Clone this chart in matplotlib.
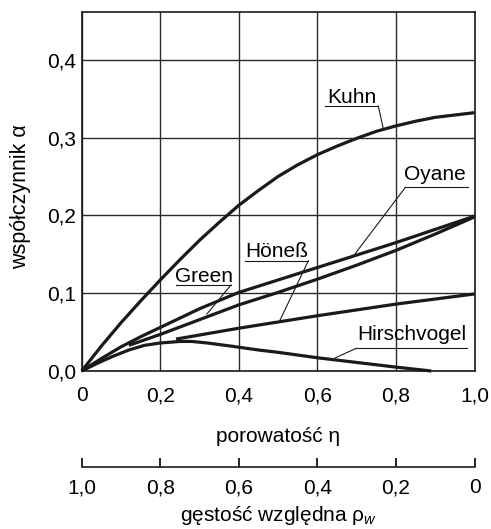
import matplotlib
matplotlib.use("Agg")
import matplotlib.pyplot as plt

plt.rcParams["font.family"] = ["Liberation Sans", "DejaVu Sans"]
plt.rcParams["mathtext.fontset"] = "custom"
plt.rcParams["mathtext.rm"] = "Liberation Sans"
plt.rcParams["mathtext.it"] = "Liberation Sans:italic"

# --- data: Poisson-type coefficient alpha vs porosity eta ---
kuhn_x = [0, 0.05, 0.1, 0.15, 0.2, 0.25, 0.3, 0.35, 0.4, 0.45, 0.5, 0.55,
          0.6, 0.65, 0.7, 0.75, 0.8, 0.85, 0.9, 0.95, 1.0]
kuhn_y = [0, 0.032, 0.062, 0.090, 0.117, 0.143, 0.168, 0.191, 0.213, 0.232,
          0.250, 0.265, 0.278, 0.289, 0.299, 0.308, 0.315, 0.321, 0.326,
          0.329, 0.332]

oyane_x = [0, 0.05, 0.1, 0.15, 0.2, 0.3, 0.4, 0.5, 0.6, 0.7, 0.8, 0.9, 1.0]
oyane_y = [0, 0.016, 0.031, 0.044, 0.056, 0.080, 0.101, 0.117, 0.133, 0.149,
           0.165, 0.182, 0.199]

green_x = [0.12, 0.2, 0.3, 0.4, 0.5, 0.6, 0.7, 0.8, 0.9, 1.0]
green_y = [0.033, 0.047, 0.066, 0.085, 0.101, 0.118, 0.136, 0.155, 0.176, 0.198]

hoeness_x = [0.24, 0.4, 0.6, 0.8, 1.0]
hoeness_y = [0.041, 0.055, 0.071, 0.086, 0.099]

hirsch_x = [0, 0.04, 0.08, 0.12, 0.16, 0.2, 0.25, 0.28, 0.32, 0.38, 0.45,
            0.5, 0.6, 0.7, 0.8, 0.89]
hirsch_y = [0, 0.010, 0.019, 0.027, 0.033, 0.036, 0.038, 0.038, 0.036, 0.032,
            0.027, 0.024, 0.017, 0.011, 0.005, 0.0]

x_ticks = [0, 0.2, 0.4, 0.6, 0.8, 1.0]
x_tick_labels = ["0", "0,2", "0,4", "0,6", "0,8", "1,0"]
y_ticks = [0.0, 0.1, 0.2, 0.3, 0.4]
y_tick_labels = ["0,0", "0,1", "0,2", "0,3", "0,4"]
rho_ticks = [1.0, 0.8, 0.6, 0.4, 0.2, 0.0]
rho_tick_labels = ["1,0", "0,8", "0,6", "0,4", "0,2", "0"]

W, H = 491, 529
fig = plt.figure(figsize=(W / 100, H / 100), dpi=100)

left, right, top, bottom = 81.7, 474.5, 12.3, 371.0
ax = fig.add_axes([left / W, 1 - bottom / H, (right - left) / W, (bottom - top) / H])
ax.set_xlim(0, 1.0)
ax.set_ylim(0, 0.461)

ax.set_xticks(x_ticks)
ax.set_xticklabels(x_tick_labels)
ax.set_yticks(y_ticks)
ax.set_yticklabels(y_tick_labels)
ax.tick_params(axis="both", length=0, labelsize=15, colors="black")
ax.tick_params(axis="x", pad=11)
ax.tick_params(axis="y", pad=4)
ax.grid(True, color="#2a2a2a", linewidth=1.0)
ax.set_axisbelow(True)
for s in ax.spines.values():
    s.set_linewidth(1.2)
    s.set_color("#1a1a1a")

lw = 2.3
col = "#1a1a1a"
for xs, ys in [(kuhn_x, kuhn_y), (oyane_x, oyane_y), (green_x, green_y),
               (hoeness_x, hoeness_y), (hirsch_x, hirsch_y)]:
    ax.plot(xs, ys, color=col, linewidth=lw, solid_capstyle="butt",
            solid_joinstyle="round", clip_on=False, zorder=3)

# curve labels with underline and leader line
labels = [
    # text, text x, baseline y, underline x0, x1, underline y, leader end (x, y), leader from right end?
    ("Kuhn", 0.689, 0.344, 0.620, 0.755, 0.3405, (0.768, 0.311), True),
    ("Oyane", 0.900, 0.2454, 0.824, 0.984, 0.236, (0.692, 0.148), False),
    ("Höneß", 0.496, 0.1465, 0.416, 0.577, 0.1417, (0.505, 0.0655), True),
    ("Green", 0.3115, 0.1150, 0.240, 0.380, 0.1105, (0.3186, 0.0732), True),
    ("Hirschvogel", 0.8406, 0.0398, 0.699, 0.981, 0.0292, (0.645, 0.0167), False),
]
for text, tx, ty, ux0, ux1, uy, (lx, ly), from_right in labels:
    ax.text(tx, ty, text, ha="center", va="baseline", fontsize=15, zorder=4)
    ax.plot([ux0, ux1], [uy, uy], color=col, linewidth=0.8, zorder=4)
    sx = ux1 if from_right else ux0
    ax.plot([sx, lx], [uy, ly], color=col, linewidth=0.8, zorder=4)

# axis titles
fig.text(278 / W, 1 - 442 / H, "porowatość η", ha="center", va="baseline", fontsize=15)
fig.text(21 / W, 1 - 197 / H, "współczynnik α", ha="center", va="center",
         rotation=90, fontsize=15.5)

# secondary scale: relative density = 1 - porosity
ax2 = fig.add_axes([left / W, 1 - 467 / H, (right - left) / W, 0.0001])
ax2.set_xlim(1.0, 0.0)
ax2.set_ylim(0, 1)
ax2.set_yticks([])
for name in ["top", "left", "right"]:
    ax2.spines[name].set_visible(False)
ax2.spines["bottom"].set_linewidth(1.2)
ax2.spines["bottom"].set_color("#1a1a1a")
ax2.patch.set_visible(False)
ax2.set_xticks(rho_ticks)
ax2.set_xticklabels(rho_tick_labels)
ax2.tick_params(axis="x", direction="in", length=6.5, width=1.2, pad=8,
                labelsize=15, colors="black")
fig.text(279 / W, 1 - 521 / H, "gęstość względna ρ$_{\\mathit{w}}$",
         ha="center", va="baseline", fontsize=15)

fig.savefig("out.png", dpi=100)
